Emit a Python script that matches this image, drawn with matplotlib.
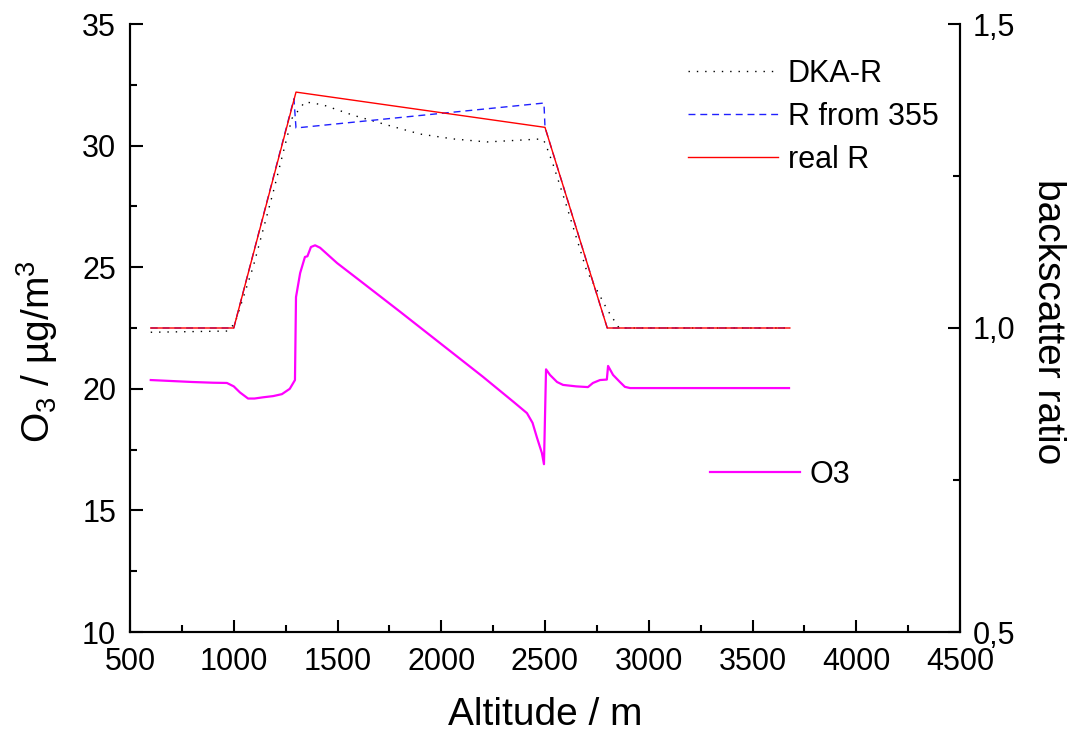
import matplotlib
matplotlib.use("Agg")
import matplotlib.pyplot as plt
from matplotlib.ticker import MultipleLocator, FuncFormatter

plt.rcParams['font.family'] = ['Liberation Sans', 'DejaVu Sans']
plt.rcParams['mathtext.fontset'] = 'custom'
plt.rcParams['mathtext.rm'] = 'Liberation Sans'
plt.rcParams['mathtext.it'] = 'Liberation Sans'
plt.rcParams['mathtext.default'] = 'regular'

# backscatter ratio (right axis)
alt_real = [600, 1000, 1300, 2500, 2800, 3680]
r_real = [1.0, 1.0, 1.388, 1.33, 1.0, 1.0]

alt_355 = [600, 1000, 1290, 1300, 2495, 2500, 2800, 3680]
r_355 = [1.0, 1.0, 1.377, 1.329, 1.37, 1.33, 1.0, 1.0]

alt_dka = [600, 970, 1006, 1093, 1189, 1257, 1281, 1305, 1343, 1430, 1575, 1738,
           1898, 2057, 2220, 2380, 2485, 2500, 2538, 2600, 2700, 2800, 2857, 3680]
r_dka = [0.993, 0.995, 1.008, 1.10, 1.222, 1.314, 1.345, 1.355, 1.372, 1.367, 1.35, 1.334,
         1.319, 1.311, 1.306, 1.309, 1.311, 1.305, 1.27, 1.205, 1.095, 1.03, 1.0, 1.0]

# ozone (left axis)
alt_o3 = [600, 700, 800, 900, 967, 1000, 1030, 1069, 1100, 1141, 1190, 1232, 1270, 1295,
          1300, 1320, 1343, 1355, 1372, 1392, 1416, 1498, 1600, 1800, 2000, 2200, 2350,
          2413, 2440, 2461, 2485, 2495, 2505, 2524, 2558, 2587, 2650, 2707, 2731, 2765,
          2798, 2804, 2828, 2861, 2885, 2910, 3676]
o3 = [20.36, 20.32, 20.28, 20.25, 20.24, 20.1, 19.85, 19.6, 19.6, 19.65, 19.7, 19.78, 20.0, 20.36,
      23.77, 24.76, 25.42, 25.45, 25.83, 25.9, 25.8, 25.17, 24.5, 23.18, 21.84, 20.5, 19.45,
      19.0, 18.6, 18.0, 17.36, 16.9, 20.8, 20.57, 20.28, 20.16, 20.1, 20.07, 20.24, 20.36,
      20.38, 20.94, 20.57, 20.28, 20.08, 20.03, 20.03]

fig = plt.figure(figsize=(10.67, 7.34), dpi=100)
ax1 = fig.add_axes([130 / 1067, 1 - 632 / 734, 830 / 1067, 608 / 734])
ax2 = ax1.twinx()

ax1.plot(alt_o3, o3, color='#ff00ff', lw=1.6, label='O3')

ax2.plot(alt_dka, r_dka, color='black', lw=1.0, dashes=(1, 5), label='DKA-R')
ax2.plot(alt_355, r_355, color='#2020ff', lw=1.0, dashes=(5, 3.5), label='R from 355')
ax2.plot(alt_real, r_real, color='#ff0000', lw=1.0, label='real R')

ax1.set_xlim(500, 4500)
ax1.set_ylim(10, 35)
ax2.set_ylim(0.5, 1.5)

ax1.xaxis.set_major_locator(MultipleLocator(500))
ax1.xaxis.set_minor_locator(MultipleLocator(250))
ax1.yaxis.set_major_locator(MultipleLocator(5))
ax1.yaxis.set_minor_locator(MultipleLocator(2.5))
ax2.yaxis.set_major_locator(MultipleLocator(0.5))
ax2.yaxis.set_minor_locator(MultipleLocator(0.25))
ax2.yaxis.set_major_formatter(FuncFormatter(lambda v, p: f"{v:.1f}".replace('.', ',')))

for a in (ax1, ax2):
    a.spines['top'].set_visible(False)
    for s in a.spines.values():
        s.set_linewidth(1.5)
    a.tick_params(which='major', direction='in', length=9, width=1.5, labelsize=22)
    a.tick_params(which='minor', direction='in', length=5, width=1.5)

ax1.tick_params(axis='x', which='major', pad=11)
ax1.tick_params(axis='y', which='major', pad=10)
ax2.tick_params(axis='y', which='major', pad=9)

fig.text(545 / 1067, 1 / 734, 'Altitude / m', fontsize=28, ha='center', va='bottom')
fig.text(50 / 1067, 1 - 352 / 734, 'O$_3$ / µg/m$^3$', fontsize=28, rotation=90,
         rotation_mode='anchor', ha='center', va='baseline')
fig.text(1038 / 1067, 1 - 322 / 734, 'backscatter ratio', fontsize=28, rotation=270,
         rotation_mode='anchor', ha='center', va='baseline')

ax2.legend(loc='upper left', bbox_to_anchor=(688 / 1067, 1 - 59 / 734),
           bbox_transform=fig.transFigure, frameon=False, fontsize=22,
           handlelength=2.95, handletextpad=0.32, labelspacing=0.42,
           borderpad=0, borderaxespad=0)
ax1.legend(loc='upper left', bbox_to_anchor=(710 / 1067, 1 - 460 / 734),
           bbox_transform=fig.transFigure, frameon=False, fontsize=22,
           handlelength=2.95, handletextpad=0.32, borderpad=0, borderaxespad=0)

fig.savefig('out.png', dpi=100)
